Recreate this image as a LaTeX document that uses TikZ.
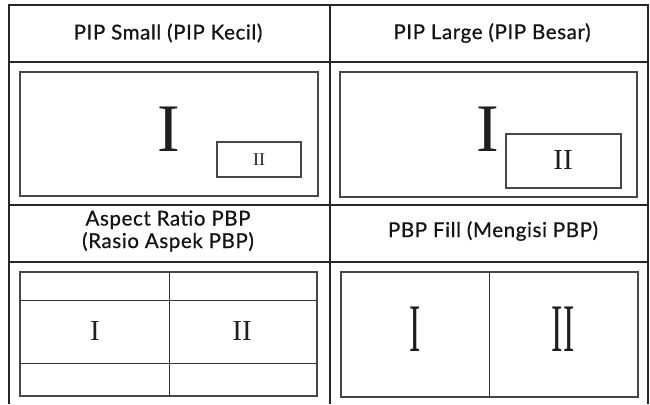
\documentclass[tikz,border=0pt]{standalone}
\usepackage{fontspec}
\setmainfont{Liberation Serif}
\newfontfamily\hdrfont[FakeBold=0.7,LetterSpace=3]{Lato}
\begin{document}
\begin{tikzpicture}[x=1pt,y=-1pt,
  grid/.style={line width=2pt, draw=black!85},
  pane/.style={line width=1.1pt, draw=black!72},
  divider/.style={line width=1pt, draw=black!80},
  hdr/.style={font=\hdrfont\fontsize{20.5}{22.5}\selectfont, align=center, text=black!92, inner sep=0},
  numeral/.style={text=black!88, inner sep=0}]
\useasboundingbox (0,0) rectangle (650,404);
% table grid
\draw[grid] (9,404) -- (9,5) -- (648,5) -- (648,404);
\draw[grid] (9,62) -- (648,62);
\draw[grid] (9,205) -- (648,205);
\draw[grid] (9,262) -- (648,262);
\draw[grid] (329.5,5) -- (329.5,404);
% headers
\node[hdr] (h1) at (168,33) {PIP Small (PIP Kecil)};
\node[hdr] (h2) at (492,33) {PIP Large (PIP Besar)};
\node[hdr] (h3) at (168,231) {Aspect Ratio PBP\\(Rasio Aspek PBP)};
\node[hdr] (h4) at (493,231) {PBP Fill (Mengisi PBP)};
% PIP small
\draw[pane] (20,72) rectangle (318,196);
\draw[pane] (217,142) rectangle (301,177);
\node[numeral, font=\fontsize{68}{70}\selectfont] (s1) at (168.5,129.5) {I};
\node[numeral, font=\fontsize{18}{20}\selectfont] (s2) at (259,159.5) {II};
% PIP large
\draw[pane] (340,72) rectangle (637,197);
\draw[pane] (506,134) rectangle (621,188);
\node[numeral, font=\fontsize{68}{70}\selectfont] (l1) at (488,129.5) {I};
\node[numeral, font=\fontsize{29}{31}\selectfont] (l2) at (563,160) {II};
% Aspect ratio PBP
\draw[pane] (20,272) rectangle (317,396);
\draw[divider] (20,300) -- (317,300);
\draw[divider] (20,363) -- (317,363);
\draw[divider] (169,272) -- (169,396);
\node[numeral, font=\fontsize{29}{31}\selectfont] (a1) at (95,331) {I};
\node[numeral, font=\fontsize{29}{31}\selectfont] (a2) at (242,331) {II};
% PBP fill
\draw[pane] (341,272) rectangle (638,397);
\draw[divider] (489,272) -- (489,397);
\node[numeral, font=\fontsize{68}{70}\selectfont, xscale=0.5] (f1) at (415,329.5) {I};
\node[numeral, font=\fontsize{68}{70}\selectfont, xscale=0.5] (f2) at (563,329.5) {II};
\end{tikzpicture}
\end{document}
